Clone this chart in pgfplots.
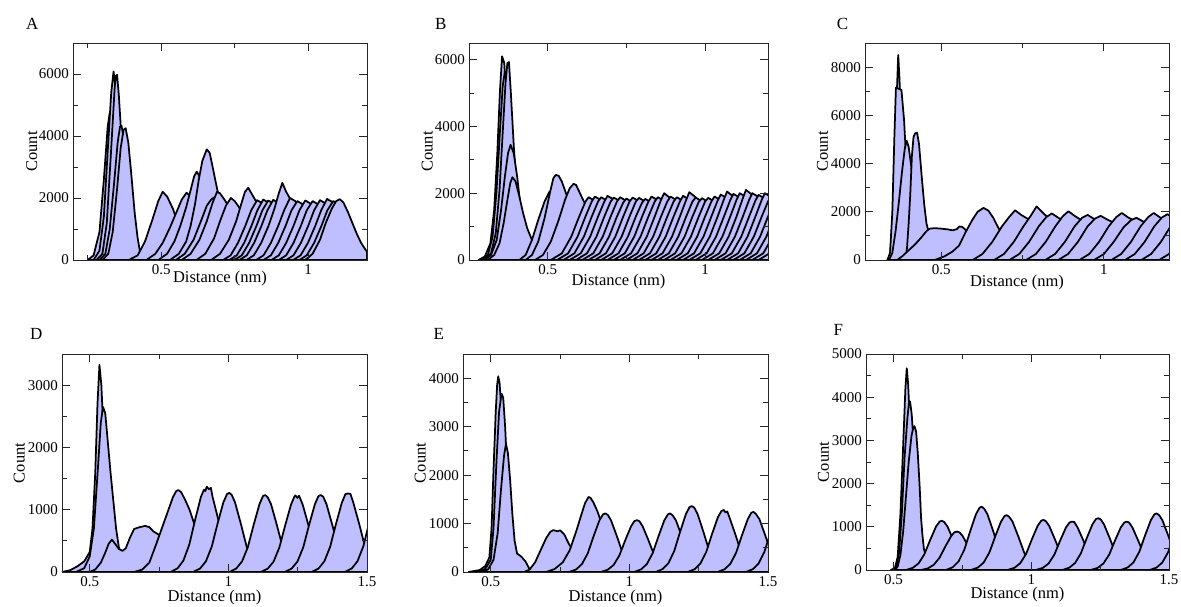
\documentclass[border=0pt]{standalone}
\usepackage{fontspec}
\setmainfont{Liberation Serif}
\usepackage{pgfplots}
\pgfplotsset{compat=1.18}
\definecolor{histfill}{RGB}{191,191,255}
\pgfplotsset{
  hist/.style={draw=black, line width=1.75pt, fill=histfill, line join=round},
  panel/.style={
    scale only axis, axis on top, clip=true, anchor=north west,
    axis line style={line width=0.9pt, black!85},
    tick style={line width=0.9pt, black!85},
    major tick length=8pt, minor tick length=5pt,
    tick align=inside,
    ymin=0,
    /pgf/number format/assume math mode=true,
    /pgf/number format/1000 sep={},
    tick label style={font=\fontsize{15}{15}\selectfont},
    xticklabel style={inner sep=0pt, yshift=-4pt},
    yticklabel style={inner sep=0pt, xshift=-4pt},
    label style={font=\fontsize{16.5}{16.5}\selectfont, inner sep=0pt},
    xlabel={Distance (nm)},
    ylabel={Count},
    ylabel style={at={(axis description cs:-0.14,0.5)}, anchor=center},
  },
}
\begin{document}
\begin{tikzpicture}
\useasboundingbox (0pt,0pt) rectangle (1181pt,606pt);
\node[anchor=base west, font=\fontsize{17}{17}\selectfont, inner sep=0pt] at (26pt,576.7pt) {A};
\node[anchor=base west, font=\fontsize{17}{17}\selectfont, inner sep=0pt] at (435pt,576.7pt) {B};
\node[anchor=base west, font=\fontsize{17}{17}\selectfont, inner sep=0pt] at (836.7pt,576.7pt) {C};
\node[anchor=base west, font=\fontsize{17}{17}\selectfont, inner sep=0pt] at (30pt,266.7pt) {D};
\node[anchor=base west, font=\fontsize{17}{17}\selectfont, inner sep=0pt] at (433.3pt,266.7pt) {E};
\node[anchor=base west, font=\fontsize{17}{17}\selectfont, inner sep=0pt] at (833.3pt,270pt) {F};

% ---------------- A ----------------
\begin{axis}[panel, at={(73pt,563pt)}, width=294pt, height=217pt,
  xmin=0.2, xmax=1.2, ymax=7000,
  xtick={0.5,1}, minor xtick={0.25,0.75},
  ytick={0,2000,4000,6000}, minor ytick={1000,3000,5000},
  xlabel style={at={(axis description cs:0.5,-0.05)}, anchor=north}]
\addplot[hist] coordinates {(0.25,0)(0.27,150)(0.29,900)(0.305,2600)(0.318,4300)(0.325,4750)(0.335,4000)(0.35,2200)(0.365,900)(0.38,200)(0.40,0)} \closedcycle;
\addplot[hist] coordinates {(0.27,0)(0.29,300)(0.305,1400)(0.318,3500)(0.33,5400)(0.338,6080)(0.345,5500)(0.355,4000)(0.37,1800)(0.385,500)(0.40,0)} \closedcycle;
\addplot[hist] coordinates {(0.28,0)(0.30,200)(0.315,1200)(0.33,3600)(0.342,5600)(0.346,5950)(0.350,5970)(0.356,5300)(0.365,3900)(0.38,1700)(0.395,400)(0.41,0)} \closedcycle;
\addplot[hist] coordinates {(0.29,0)(0.31,200)(0.325,1000)(0.34,2500)(0.352,3800)(0.36,4300)(0.365,4330)(0.373,3900)(0.385,2600)(0.40,1100)(0.415,300)(0.43,0)} \closedcycle;
\addplot[hist] coordinates {(0.30,0)(0.32,200)(0.335,900)(0.35,2300)(0.362,3600)(0.372,4200)(0.379,4250)(0.388,3800)(0.398,2800)(0.41,1500)(0.42,700)(0.43,150)(0.44,0)} \closedcycle;
\addplot[hist] coordinates {(0.39,0)(0.42,150)(0.445,600)(0.47,1300)(0.49,1900)(0.505,2200)(0.52,2050)(0.54,1650)(0.56,1100)(0.58,600)(0.61,200)(0.64,0)} \closedcycle;
\addplot[hist] coordinates {(0.45,0)(0.48,200)(0.505,550)(0.53,1050)(0.55,1500)(0.57,1950)(0.586,2170)(0.60,2050)(0.62,1700)(0.645,1100)(0.67,500)(0.70,100)(0.72,0)} \closedcycle;
\addplot[hist] coordinates {(0.49,0)(0.52,200)(0.545,600)(0.565,1100)(0.585,1700)(0.60,2250)(0.612,2700)(0.621,2850)(0.63,2700)(0.645,2100)(0.665,1400)(0.69,600)(0.72,150)(0.74,0)} \closedcycle;
\addplot[hist] coordinates {(0.53,0)(0.56,200)(0.585,600)(0.60,1100)(0.615,1800)(0.628,2600)(0.64,3200)(0.655,3570)(0.665,3450)(0.675,3000)(0.69,2300)(0.71,1500)(0.735,700)(0.76,200)(0.78,0)} \closedcycle;
\addplot[hist] coordinates {(0.55,0)(0.58,200)(0.61,650)(0.635,1250)(0.655,1750)(0.67,1950)(0.685,2050)(0.70,2000)(0.72,1750)(0.745,1200)(0.77,600)(0.80,200)(0.83,0)} \closedcycle;
\addplot[hist] coordinates {(0.57,0)(0.60,200)(0.63,650)(0.655,1250)(0.675,1850)(0.69,2200)(0.70,2150)(0.715,1950)(0.735,1650)(0.76,1100)(0.79,500)(0.82,150)(0.85,0)} \closedcycle;
\addplot[hist] coordinates {(0.62,0)(0.65,200)(0.68,700)(0.70,1250)(0.72,1750)(0.737,2000)(0.75,1900)(0.765,1700)(0.785,1300)(0.81,800)(0.84,300)(0.87,0)} \closedcycle;
\addplot[hist] coordinates {(0.67,0)(0.70,200)(0.73,650)(0.755,1250)(0.772,1800)(0.785,2200)(0.796,2330)(0.81,2100)(0.825,1850)(0.845,1500)(0.87,900)(0.90,350)(0.93,0)} \closedcycle;
\addplot[hist] coordinates {(0.711,0)(0.736,150)(0.761,550)(0.786,1100)(0.806,1600)(0.826,1930)(0.844,1830)(0.871,1500)(0.901,800)(0.926,250)(0.951,0)} \closedcycle;
\addplot[hist] coordinates {(0.732,0)(0.757,150)(0.782,550)(0.807,1100)(0.827,1600)(0.847,1950)(0.865,1850)(0.892,1500)(0.922,800)(0.947,250)(0.972,0)} \closedcycle;
\addplot[hist] coordinates {(0.749,0)(0.774,150)(0.799,550)(0.824,1100)(0.844,1600)(0.864,1920)(0.882,1820)(0.909,1500)(0.939,800)(0.964,250)(0.989,0)} \closedcycle;
\addplot[hist] coordinates {(0.766,0)(0.791,150)(0.816,550)(0.841,1100)(0.861,1600)(0.881,1940)(0.899,1840)(0.926,1500)(0.956,800)(0.981,250)(1.006,0)} \closedcycle;
\addplot[hist] coordinates {(0.79,0)(0.815,150)(0.84,550)(0.865,1100)(0.885,1650)(0.90,2150)(0.912,2490)(0.925,2200)(0.94,1950)(0.96,1600)(0.99,900)(1.02,300)(1.045,0)} \closedcycle;
\addplot[hist] coordinates {(0.823,0)(0.848,150)(0.873,550)(0.898,1100)(0.918,1600)(0.938,2000)(0.956,1900)(0.983,1500)(1.013,800)(1.038,250)(1.063,0)} \closedcycle;
\addplot[hist] coordinates {(0.848,0)(0.873,150)(0.898,550)(0.923,1100)(0.943,1600)(0.963,1900)(0.981,1800)(1.008,1500)(1.038,800)(1.063,250)(1.088,0)} \closedcycle;
\addplot[hist] coordinates {(0.875,0)(0.90,150)(0.925,550)(0.95,1100)(0.97,1600)(0.99,1920)(1.008,1820)(1.035,1500)(1.065,800)(1.09,250)(1.115,0)} \closedcycle;
\addplot[hist] coordinates {(0.90,0)(0.925,150)(0.95,550)(0.975,1100)(0.995,1600)(1.015,1900)(1.033,1800)(1.06,1500)(1.09,800)(1.115,250)(1.14,0)} \closedcycle;
\addplot[hist] coordinates {(0.925,0)(0.95,150)(0.975,550)(1.0,1100)(1.02,1600)(1.04,1930)(1.058,1830)(1.085,1500)(1.115,800)(1.14,250)(1.165,0)} \closedcycle;
\addplot[hist] coordinates {(0.949,0)(0.974,150)(0.999,550)(1.024,1100)(1.044,1600)(1.064,1970)(1.082,1870)(1.109,1500)(1.139,800)(1.164,250)(1.189,0)} \closedcycle;
\addplot[hist] coordinates {(0.97,0)(0.995,150)(1.02,550)(1.045,1100)(1.065,1600)(1.085,1900)(1.103,1800)(1.13,1500)(1.16,800)(1.185,250)(1.21,0)} \closedcycle;
\addplot[hist] coordinates {(0.99,0)(1.015,200)(1.04,650)(1.06,1200)(1.08,1650)(1.095,1900)(1.108,1960)(1.12,1850)(1.135,1550)(1.15,1200)(1.165,850)(1.18,550)(1.195,330)(1.2,280)} \closedcycle;
\end{axis}

% ---------------- B ----------------
\begin{axis}[panel, at={(469pt,563pt)}, width=299pt, height=217pt,
  xmin=0.25, xmax=1.2, ymax=6500,
  xtick={0.5,1}, minor xtick={0.75},
  ytick={0,2000,4000,6000}, minor ytick={1000,3000,5000},
  xlabel style={at={(axis description cs:0.5,-0.065)}, anchor=north}]
\addplot[hist] coordinates {(0.28,0)(0.30,100)(0.318,500)(0.33,1500)(0.34,3200)(0.348,5000)(0.355,6100)(0.362,5900)(0.37,4700)(0.38,3000)(0.395,1300)(0.41,400)(0.43,0)} \closedcycle;
\addplot[hist] coordinates {(0.29,0)(0.31,150)(0.325,700)(0.337,2000)(0.348,3800)(0.357,5200)(0.364,5650)(0.372,5200)(0.382,3700)(0.395,2000)(0.41,700)(0.43,0)} \closedcycle;
\addplot[hist] coordinates {(0.30,0)(0.32,200)(0.335,800)(0.347,2100)(0.357,3800)(0.366,5300)(0.372,5900)(0.377,5930)(0.383,5000)(0.393,3300)(0.405,1700)(0.42,600)(0.44,0)} \closedcycle;
\addplot[hist] coordinates {(0.30,0)(0.32,150)(0.338,600)(0.352,1500)(0.364,2500)(0.374,3200)(0.382,3450)(0.392,3200)(0.403,2500)(0.415,1500)(0.428,700)(0.44,250)(0.455,0)} \closedcycle;
\addplot[hist] coordinates {(0.31,0)(0.33,150)(0.347,500)(0.36,1100)(0.372,1800)(0.381,2300)(0.388,2480)(0.398,2350)(0.41,1900)(0.422,1400)(0.435,950)(0.45,600)(0.465,250)(0.48,0)} \closedcycle;
\addplot[hist] coordinates {(0.41,0)(0.43,150)(0.45,600)(0.47,1200)(0.49,1750)(0.506,2050)(0.52,1950)(0.54,1500)(0.565,800)(0.59,300)(0.62,0)} \closedcycle;
\addplot[hist] coordinates {(0.43,0)(0.45,150)(0.47,550)(0.49,1250)(0.508,2050)(0.518,2450)(0.526,2550)(0.535,2520)(0.545,2350)(0.56,1950)(0.58,1500)(0.605,900)(0.63,400)(0.66,0)} \closedcycle;
\addplot[hist] coordinates {(0.46,0)(0.485,150)(0.51,550)(0.535,1200)(0.555,1800)(0.57,2150)(0.582,2280)(0.59,2250)(0.60,2050)(0.615,1750)(0.64,1300)(0.67,700)(0.70,200)(0.73,0)} \closedcycle;
\addplot[hist] coordinates {(0.51,0)(0.545,200)(0.575,700)(0.60,1300)(0.62,1750)(0.63,1880)(0.65,1770)(0.69,1300)(0.74,300)(0.78,0)} \closedcycle;
\addplot[hist] coordinates {(0.53,0)(0.565,200)(0.595,700)(0.62,1300)(0.64,1750)(0.65,1900)(0.67,1790)(0.71,1300)(0.76,300)(0.80,0)} \closedcycle;
\addplot[hist] coordinates {(0.55,0)(0.585,200)(0.615,700)(0.64,1300)(0.66,1750)(0.67,1880)(0.69,1770)(0.73,1300)(0.78,300)(0.82,0)} \closedcycle;
\addplot[hist] coordinates {(0.57,0)(0.605,200)(0.635,700)(0.66,1300)(0.68,1750)(0.69,1920)(0.71,1810)(0.75,1300)(0.80,300)(0.84,0)} \closedcycle;
\addplot[hist] coordinates {(0.59,0)(0.625,200)(0.655,700)(0.68,1300)(0.70,1750)(0.71,1870)(0.73,1760)(0.77,1300)(0.82,300)(0.86,0)} \closedcycle;
\addplot[hist] coordinates {(0.61,0)(0.645,200)(0.675,700)(0.70,1300)(0.72,1750)(0.73,1880)(0.75,1770)(0.79,1300)(0.84,300)(0.88,0)} \closedcycle;
\addplot[hist] coordinates {(0.63,0)(0.665,200)(0.695,700)(0.72,1300)(0.74,1720)(0.75,1840)(0.77,1730)(0.81,1300)(0.86,300)(0.90,0)} \closedcycle;
\addplot[hist] coordinates {(0.65,0)(0.685,200)(0.715,700)(0.74,1300)(0.76,1750)(0.77,1870)(0.79,1760)(0.83,1300)(0.88,300)(0.92,0)} \closedcycle;
\addplot[hist] coordinates {(0.67,0)(0.705,200)(0.735,700)(0.76,1300)(0.78,1750)(0.79,1860)(0.81,1750)(0.85,1300)(0.90,300)(0.94,0)} \closedcycle;
\addplot[hist] coordinates {(0.69,0)(0.725,200)(0.755,700)(0.78,1300)(0.80,1720)(0.81,1830)(0.83,1720)(0.87,1300)(0.92,300)(0.96,0)} \closedcycle;
\addplot[hist] coordinates {(0.71,0)(0.745,200)(0.775,700)(0.80,1300)(0.82,1750)(0.83,1900)(0.85,1790)(0.89,1300)(0.94,300)(0.98,0)} \closedcycle;
\addplot[hist] coordinates {(0.73,0)(0.765,200)(0.795,700)(0.82,1300)(0.84,1750)(0.85,1880)(0.87,1770)(0.91,1300)(0.96,300)(1.00,0)} \closedcycle;
\addplot[hist] coordinates {(0.75,0)(0.785,200)(0.815,700)(0.84,1300)(0.86,1800)(0.87,2000)(0.89,1850)(0.93,1300)(0.98,300)(1.02,0)} \closedcycle;
\addplot[hist] coordinates {(0.77,0)(0.805,200)(0.835,700)(0.86,1300)(0.88,1750)(0.89,1900)(0.91,1790)(0.95,1300)(1.00,300)(1.04,0)} \closedcycle;
\addplot[hist] coordinates {(0.79,0)(0.825,200)(0.855,700)(0.88,1300)(0.90,1750)(0.91,1880)(0.93,1770)(0.97,1300)(1.02,300)(1.06,0)} \closedcycle;
\addplot[hist] coordinates {(0.81,0)(0.845,200)(0.875,700)(0.90,1300)(0.92,1750)(0.93,1920)(0.95,1810)(0.99,1300)(1.04,300)(1.08,0)} \closedcycle;
\addplot[hist] coordinates {(0.83,0)(0.865,200)(0.895,700)(0.92,1300)(0.94,1800)(0.95,2030)(0.97,1880)(1.01,1300)(1.06,300)(1.10,0)} \closedcycle;
\addplot[hist] coordinates {(0.85,0)(0.885,200)(0.915,700)(0.94,1300)(0.96,1750)(0.97,1870)(0.99,1760)(1.03,1300)(1.08,300)(1.12,0)} \closedcycle;
\addplot[hist] coordinates {(0.87,0)(0.905,200)(0.935,700)(0.96,1300)(0.98,1740)(0.99,1850)(1.01,1740)(1.05,1300)(1.10,300)(1.14,0)} \closedcycle;
\addplot[hist] coordinates {(0.89,0)(0.925,200)(0.955,700)(0.98,1300)(1.00,1750)(1.01,1860)(1.03,1750)(1.07,1300)(1.12,300)(1.16,0)} \closedcycle;
\addplot[hist] coordinates {(0.91,0)(0.945,200)(0.975,700)(1.00,1300)(1.02,1750)(1.03,1900)(1.05,1790)(1.09,1300)(1.14,300)(1.18,0)} \closedcycle;
\addplot[hist] coordinates {(0.93,0)(0.965,200)(0.995,700)(1.02,1300)(1.04,1780)(1.05,1960)(1.07,1850)(1.11,1300)(1.16,300)(1.20,0)} \closedcycle;
\addplot[hist] coordinates {(0.95,0)(0.985,200)(1.015,700)(1.04,1300)(1.06,1820)(1.07,2050)(1.09,1900)(1.13,1300)(1.18,300)(1.22,0)} \closedcycle;
\addplot[hist] coordinates {(0.97,0)(1.005,200)(1.035,700)(1.06,1300)(1.08,1790)(1.09,1980)(1.11,1870)(1.15,1300)(1.20,300)(1.24,0)} \closedcycle;
\addplot[hist] coordinates {(0.99,0)(1.025,200)(1.055,700)(1.08,1300)(1.10,1800)(1.11,2000)(1.13,1890)(1.17,1300)(1.22,300)(1.26,0)} \closedcycle;
\addplot[hist] coordinates {(1.01,0)(1.045,200)(1.075,700)(1.10,1300)(1.12,1850)(1.13,2100)(1.15,1950)(1.19,1300)(1.24,300)(1.28,0)} \closedcycle;
\addplot[hist] coordinates {(1.03,0)(1.065,200)(1.095,700)(1.12,1300)(1.14,1800)(1.15,2000)(1.17,1890)(1.21,1300)(1.26,300)(1.30,0)} \closedcycle;
\addplot[hist] coordinates {(1.05,0)(1.085,200)(1.115,700)(1.14,1300)(1.16,1780)(1.17,1950)(1.19,1840)(1.23,1300)(1.28,300)(1.32,0)} \closedcycle;
\addplot[hist] coordinates {(1.07,0)(1.105,200)(1.135,700)(1.16,1300)(1.18,1800)(1.19,2000)(1.21,1890)(1.25,1300)(1.30,300)(1.34,0)} \closedcycle;
\addplot[hist] coordinates {(1.09,0)(1.125,200)(1.155,700)(1.18,1300)(1.20,1750)(1.21,1920)(1.23,1810)(1.27,1300)(1.32,300)(1.36,0)} \closedcycle;
\addplot[hist] coordinates {(1.11,0)(1.145,200)(1.175,700)(1.20,1300)(1.22,1750)(1.23,1900)(1.25,1790)(1.29,1300)(1.34,300)(1.38,0)} \closedcycle;
\addplot[hist] coordinates {(1.13,0)(1.165,200)(1.195,700)(1.22,1300)(1.24,1750)(1.25,1950)(1.27,1840)(1.31,1300)(1.36,300)(1.40,0)} \closedcycle;
\addplot[hist] coordinates {(1.15,0)(1.185,200)(1.215,700)(1.24,1300)(1.26,1750)(1.27,1900)(1.29,1790)(1.33,1300)(1.38,300)(1.42,0)} \closedcycle;
\addplot[hist] coordinates {(1.17,0)(1.205,200)(1.235,700)(1.26,1300)(1.28,1750)(1.29,1900)(1.31,1790)(1.35,1300)(1.40,300)(1.44,0)} \closedcycle;
\end{axis}

% ---------------- C ----------------
\begin{axis}[panel, at={(865pt,563pt)}, width=304pt, height=217pt,
  xmin=0.266, xmax=1.2, ymax=9000,
  xtick={0.5,1}, minor xtick={0.75},
  ytick={0,2000,4000,6000,8000}, minor ytick={1000,3000,5000,7000},
  xlabel style={at={(axis description cs:0.5,-0.07)}, anchor=north}]
\addplot[hist] coordinates {(0.335,0)(0.343,200)(0.35,1500)(0.358,4500)(0.364,7000)(0.368,8500)(0.372,7500)(0.38,4500)(0.39,1800)(0.40,500)(0.415,0)} \closedcycle;
\addplot[hist] coordinates {(0.335,0)(0.343,300)(0.35,2000)(0.356,5000)(0.361,7150)(0.37,7100)(0.378,7050)(0.386,5800)(0.395,3500)(0.405,1500)(0.42,400)(0.435,0)} \closedcycle;
\addplot[hist] coordinates {(0.34,0)(0.35,300)(0.36,1200)(0.37,2400)(0.38,3700)(0.388,4600)(0.394,4950)(0.40,4700)(0.41,3700)(0.42,2500)(0.43,1400)(0.44,700)(0.455,200)(0.47,0)} \closedcycle;
\addplot[hist] coordinates {(0.39,0)(0.395,500)(0.40,1500)(0.405,2700)(0.41,4300)(0.415,5100)(0.42,5250)(0.426,5280)(0.432,4800)(0.44,3500)(0.448,2300)(0.455,1500)(0.465,1000)(0.48,500)(0.50,150)(0.52,0)} \closedcycle;
\addplot[hist] coordinates {(0.365,0)(0.38,150)(0.40,400)(0.42,650)(0.44,950)(0.455,1200)(0.465,1300)(0.48,1320)(0.50,1300)(0.52,1270)(0.535,1230)(0.548,1280)(0.556,1390)(0.565,1370)(0.575,1250)(0.585,850)(0.60,400)(0.62,100)(0.64,0)} \closedcycle;
\addplot[hist] coordinates {(0.48,0)(0.51,150)(0.535,350)(0.555,600)(0.575,1150)(0.595,1650)(0.612,2000)(0.63,2160)(0.645,2050)(0.66,1750)(0.675,1350)(0.70,800)(0.73,300)(0.76,0)} \closedcycle;
\addplot[hist] coordinates {(0.597,0)(0.627,250)(0.657,750)(0.687,1400)(0.71,1800)(0.727,2060)(0.747,1860)(0.767,1700)(0.797,1000)(0.827,400)(0.857,0)} \closedcycle;
\addplot[hist] coordinates {(0.663,0)(0.693,250)(0.723,750)(0.753,1400)(0.776,1850)(0.793,2220)(0.813,1950)(0.833,1700)(0.863,1000)(0.893,400)(0.923,0)} \closedcycle;
\addplot[hist] coordinates {(0.71,0)(0.74,250)(0.77,750)(0.80,1400)(0.823,1780)(0.84,1930)(0.86,1750)(0.88,1600)(0.91,1000)(0.94,400)(0.97,0)} \closedcycle;
\addplot[hist] coordinates {(0.761,0)(0.791,250)(0.821,750)(0.851,1400)(0.874,1820)(0.891,2020)(0.911,1820)(0.931,1650)(0.961,1000)(0.991,400)(1.021,0)} \closedcycle;
\addplot[hist] coordinates {(0.82,0)(0.85,250)(0.88,750)(0.91,1400)(0.933,1750)(0.95,1870)(0.97,1700)(0.99,1580)(1.02,1000)(1.05,400)(1.08,0)} \closedcycle;
\addplot[hist] coordinates {(0.86,0)(0.89,250)(0.92,750)(0.95,1400)(0.973,1720)(0.99,1830)(1.01,1680)(1.03,1550)(1.06,1000)(1.09,400)(1.12,0)} \closedcycle;
\addplot[hist] coordinates {(0.925,0)(0.955,250)(0.985,750)(1.015,1400)(1.038,1780)(1.055,1950)(1.075,1760)(1.095,1620)(1.125,1000)(1.155,400)(1.185,0)} \closedcycle;
\addplot[hist] coordinates {(0.97,0)(1.00,250)(1.03,750)(1.06,1350)(1.083,1650)(1.10,1750)(1.12,1600)(1.14,1450)(1.17,950)(1.20,400)(1.23,0)} \closedcycle;
\addplot[hist] coordinates {(1.023,0)(1.053,250)(1.083,750)(1.113,1400)(1.136,1780)(1.153,1950)(1.173,1760)(1.193,1620)(1.223,1000)(1.253,400)(1.283,0)} \closedcycle;
\addplot[hist] coordinates {(1.065,0)(1.095,250)(1.125,750)(1.155,1400)(1.178,1760)(1.195,1900)(1.215,1720)(1.235,1600)(1.265,1000)(1.295,400)(1.325,0)} \closedcycle;
\addplot[hist] coordinates {(1.115,0)(1.145,250)(1.175,750)(1.205,1400)(1.228,1780)(1.245,1950)(1.265,1760)(1.285,1620)(1.315,1000)(1.345,400)(1.375,0)} \closedcycle;
\addplot[hist] coordinates {(1.17,0)(1.20,250)(1.23,750)(1.26,1400)(1.283,1760)(1.30,1900)(1.32,1720)(1.34,1600)(1.37,1000)(1.40,400)(1.43,0)} \closedcycle;
\end{axis}

% ---------------- D ----------------
\begin{axis}[panel, at={(62pt,252pt)}, width=305pt, height=218pt,
  xmin=0.4, xmax=1.5, ymax=3500,
  xtick={0.5,1,1.5}, minor xtick={0.75,1.25},
  ytick={0,1000,2000,3000}, minor ytick={500,1500,2500},
  xlabel style={at={(axis description cs:0.5,-0.08)}, anchor=north}]
\addplot[hist] coordinates {(0.40,0)(0.43,30)(0.455,90)(0.48,170)(0.50,320)(0.51,700)(0.52,1600)(0.528,2700)(0.535,3325)(0.542,3000)(0.55,2200)(0.56,1400)(0.575,700)(0.59,300)(0.61,80)(0.63,0)} \closedcycle;
\addplot[hist] coordinates {(0.45,0)(0.48,60)(0.50,250)(0.515,700)(0.53,1700)(0.54,2400)(0.548,2650)(0.556,2550)(0.565,2100)(0.575,1600)(0.585,1150)(0.595,700)(0.605,400)(0.62,200)(0.645,70)(0.67,0)} \closedcycle;
\addplot[hist] coordinates {(0.50,0)(0.52,40)(0.54,150)(0.555,300)(0.568,450)(0.58,520)(0.592,450)(0.605,370)(0.618,340)(0.63,380)(0.645,550)(0.66,690)(0.68,720)(0.70,740)(0.715,720)(0.73,650)(0.745,610)(0.76,570)(0.78,480)(0.80,330)(0.83,150)(0.86,40)(0.89,0)} \closedcycle;
\addplot[hist] coordinates {(0.66,0)(0.69,40)(0.715,150)(0.74,450)(0.76,700)(0.78,950)(0.80,1200)(0.812,1300)(0.82,1315)(0.83,1280)(0.845,1150)(0.86,1000)(0.875,800)(0.89,600)(0.91,350)(0.94,120)(0.97,0)} \closedcycle;
\addplot[hist] coordinates {(0.792,0)(0.817,60)(0.838,185)(0.859,438)(0.88,836)(0.901,1206)(0.912,1320)(0.917,1300)(0.922,1370)(0.93,1330)(0.937,1350)(0.943,1206)(0.964,836)(0.985,438)(1.006,185)(1.027,60)(1.052,0)} \closedcycle;
\addplot[hist] coordinates {(0.873,0)(0.898,56)(0.919,171)(0.94,406)(0.961,775)(0.982,1118)(0.995,1250)(1.003,1270)(1.012,1240)(1.024,1118)(1.045,775)(1.066,406)(1.087,171)(1.108,56)(1.133,0)} \closedcycle;
\addplot[hist] coordinates {(1.003,0)(1.028,54)(1.049,167)(1.07,395)(1.091,753)(1.112,1087)(1.125,1220)(1.133,1235)(1.142,1200)(1.154,1087)(1.175,753)(1.196,395)(1.217,167)(1.238,54)(1.263,0)} \closedcycle;
\addplot[hist] coordinates {(1.117,0)(1.142,54)(1.163,166)(1.184,394)(1.205,750)(1.226,1082)(1.237,1200)(1.242,1230)(1.249,1190)(1.255,1225)(1.268,1082)(1.289,750)(1.31,394)(1.331,166)(1.352,54)(1.377,0)} \closedcycle;
\addplot[hist] coordinates {(1.203,0)(1.228,54)(1.249,167)(1.27,395)(1.291,753)(1.312,1087)(1.325,1220)(1.333,1235)(1.342,1210)(1.354,1087)(1.375,753)(1.396,395)(1.417,167)(1.438,54)(1.463,0)} \closedcycle;
\addplot[hist] coordinates {(1.30,0)(1.325,55)(1.346,170)(1.367,403)(1.388,769)(1.409,1109)(1.422,1250)(1.43,1260)(1.44,1255)(1.451,1109)(1.472,769)(1.493,403)(1.514,170)(1.535,55)(1.56,0)} \closedcycle;
\addplot[hist] coordinates {(1.42,0)(1.445,57)(1.466,175)(1.487,416)(1.508,793)(1.529,1144)(1.55,1300)(1.57,1144)(1.6,0)} \closedcycle;
\end{axis}

% ---------------- E ----------------
\begin{axis}[panel, at={(463pt,252pt)}, width=305pt, height=218pt,
  xmin=0.4, xmax=1.5, ymax=4500,
  xtick={0.5,1,1.5}, minor xtick={0.75,1.25},
  ytick={0,1000,2000,3000,4000}, minor ytick={500,1500,2500,3500},
  xlabel style={at={(axis description cs:0.5,-0.08)}, anchor=north}]
\addplot[hist] coordinates {(0.42,0)(0.46,40)(0.48,120)(0.495,300)(0.503,900)(0.51,2100)(0.518,3300)(0.523,3850)(0.527,4040)(0.532,3900)(0.54,3200)(0.55,2000)(0.56,1000)(0.57,400)(0.585,120)(0.60,30)(0.62,0)} \closedcycle;
\addplot[hist] coordinates {(0.45,0)(0.48,60)(0.50,250)(0.51,900)(0.52,2200)(0.53,3300)(0.539,3680)(0.545,3600)(0.552,3000)(0.56,2000)(0.57,1000)(0.58,450)(0.595,150)(0.61,40)(0.63,0)} \closedcycle;
\addplot[hist] coordinates {(0.46,0)(0.49,50)(0.51,250)(0.525,800)(0.537,1700)(0.548,2400)(0.555,2650)(0.562,2450)(0.57,1900)(0.578,1200)(0.586,650)(0.595,380)(0.61,320)(0.625,220)(0.64,60)(0.66,0)} \closedcycle;
\addplot[hist] coordinates {(0.62,0)(0.64,50)(0.66,200)(0.68,450)(0.70,700)(0.715,830)(0.726,865)(0.74,840)(0.75,860)(0.765,780)(0.78,600)(0.80,400)(0.83,150)(0.86,30)(0.88,0)} \closedcycle;
\addplot[hist] coordinates {(0.70,0)(0.73,60)(0.76,200)(0.785,450)(0.81,870)(0.825,1150)(0.84,1420)(0.853,1550)(0.86,1530)(0.87,1440)(0.885,1250)(0.90,1000)(0.92,600)(0.945,250)(0.97,60)(1.0,0)} \closedcycle;
\addplot[hist] coordinates {(0.783,0)(0.808,53)(0.829,163)(0.85,387)(0.871,738)(0.892,1065)(0.905,1190)(0.913,1210)(0.922,1180)(0.934,1065)(0.955,738)(0.976,387)(0.997,163)(1.018,53)(1.043,0)} \closedcycle;
\addplot[hist] coordinates {(0.897,0)(0.922,47)(0.943,144)(0.964,342)(0.985,653)(1.006,942)(1.018,1050)(1.027,1070)(1.036,1050)(1.048,942)(1.069,653)(1.09,342)(1.111,144)(1.132,47)(1.157,0)} \closedcycle;
\addplot[hist] coordinates {(1.017,0)(1.042,53)(1.063,163)(1.084,387)(1.105,738)(1.126,1065)(1.139,1190)(1.147,1210)(1.156,1170)(1.168,1065)(1.189,738)(1.21,387)(1.231,163)(1.252,53)(1.277,0)} \closedcycle;
\addplot[hist] coordinates {(1.095,0)(1.12,60)(1.141,184)(1.162,435)(1.183,830)(1.204,1197)(1.217,1340)(1.225,1360)(1.234,1330)(1.246,1197)(1.267,830)(1.288,435)(1.309,184)(1.33,60)(1.355,0)} \closedcycle;
\addplot[hist] coordinates {(1.21,0)(1.235,56)(1.256,173)(1.277,410)(1.298,781)(1.319,1126)(1.332,1260)(1.34,1280)(1.347,1230)(1.353,1250)(1.361,1126)(1.382,781)(1.403,410)(1.424,173)(1.445,56)(1.47,0)} \closedcycle;
\addplot[hist] coordinates {(1.318,0)(1.343,55)(1.364,167)(1.385,397)(1.406,756)(1.427,1091)(1.44,1225)(1.448,1240)(1.456,1200)(1.469,1091)(1.49,756)(1.511,397)(1.532,167)(1.553,55)(1.578,0)} \closedcycle;
\addplot[hist] coordinates {(1.42,0)(1.445,57)(1.466,175)(1.487,416)(1.508,793)(1.529,1144)(1.55,1300)(1.57,1144)(1.6,0)} \closedcycle;
\end{axis}

% ---------------- F ----------------
\begin{axis}[panel, at={(866pt,252pt)}, width=303pt, height=216pt,
  xmin=0.4, xmax=1.5, ymax=5000,
  xtick={0.5,1,1.5}, minor xtick={0.75,1.25},
  ytick={0,1000,2000,3000,4000,5000}, minor ytick={500,1500,2500,3500,4500},
  xlabel style={at={(axis description cs:0.5,-0.08)}, anchor=north}]
\addplot[hist] coordinates {(0.49,0)(0.505,50)(0.515,300)(0.525,1300)(0.535,2900)(0.543,4200)(0.548,4670)(0.553,4300)(0.56,3300)(0.57,2000)(0.58,1000)(0.59,400)(0.60,150)(0.615,0)} \closedcycle;
\addplot[hist] coordinates {(0.50,0)(0.51,80)(0.52,400)(0.53,1300)(0.54,2600)(0.55,3500)(0.556,3880)(0.56,3900)(0.566,3600)(0.575,2700)(0.585,1600)(0.595,800)(0.605,300)(0.62,0)} \closedcycle;
\addplot[hist] coordinates {(0.505,0)(0.515,80)(0.525,350)(0.535,900)(0.545,1700)(0.555,2500)(0.565,3100)(0.572,3300)(0.576,3330)(0.582,3200)(0.588,2700)(0.595,1900)(0.60,1200)(0.605,800)(0.61,500)(0.62,250)(0.635,60)(0.65,0)} \closedcycle;
\addplot[hist] coordinates {(0.545,0)(0.57,50)(0.591,154)(0.612,365)(0.633,695)(0.654,1003)(0.667,1120)(0.675,1140)(0.684,1110)(0.696,1003)(0.717,695)(0.738,365)(0.759,154)(0.78,50)(0.805,0)} \closedcycle;
\addplot[hist] coordinates {(0.60,0)(0.625,39)(0.646,120)(0.667,285)(0.688,543)(0.709,783)(0.72,870)(0.73,890)(0.74,870)(0.751,783)(0.772,543)(0.793,285)(0.814,120)(0.835,39)(0.86,0)} \closedcycle;
\addplot[hist] coordinates {(0.69,0)(0.715,64)(0.736,198)(0.757,469)(0.778,894)(0.799,1289)(0.812,1440)(0.82,1465)(0.829,1420)(0.841,1289)(0.862,894)(0.883,469)(0.904,198)(0.925,64)(0.95,0)} \closedcycle;
\addplot[hist] coordinates {(0.781,0)(0.806,56)(0.827,171)(0.848,406)(0.869,775)(0.89,1118)(0.903,1250)(0.911,1270)(0.92,1230)(0.932,1118)(0.953,775)(0.974,406)(0.995,171)(1.016,56)(1.041,0)} \closedcycle;
\addplot[hist] coordinates {(0.914,0)(0.939,51)(0.96,157)(0.981,371)(1.002,708)(1.023,1021)(1.036,1140)(1.044,1160)(1.053,1130)(1.065,1021)(1.086,708)(1.107,371)(1.128,157)(1.149,51)(1.174,0)} \closedcycle;
\addplot[hist] coordinates {(1.017,0)(1.042,49)(1.063,151)(1.084,358)(1.105,683)(1.126,986)(1.139,1100)(1.147,1120)(1.156,1110)(1.168,986)(1.189,683)(1.21,358)(1.231,151)(1.252,49)(1.277,0)} \closedcycle;
\addplot[hist] coordinates {(1.113,0)(1.138,53)(1.159,162)(1.18,384)(1.201,732)(1.222,1056)(1.235,1180)(1.243,1200)(1.252,1170)(1.264,1056)(1.285,732)(1.306,384)(1.327,162)(1.348,53)(1.373,0)} \closedcycle;
\addplot[hist] coordinates {(1.216,0)(1.241,49)(1.262,151)(1.283,358)(1.304,683)(1.325,986)(1.338,1100)(1.346,1120)(1.355,1100)(1.367,986)(1.388,683)(1.409,358)(1.43,151)(1.451,49)(1.476,0)} \closedcycle;
\addplot[hist] coordinates {(1.325,0)(1.35,58)(1.371,177)(1.392,419)(1.413,799)(1.434,1153)(1.447,1290)(1.455,1310)(1.464,1270)(1.476,1153)(1.497,799)(1.518,419)(1.539,177)(1.56,58)(1.585,0)} \closedcycle;
\addplot[hist] coordinates {(1.43,0)(1.455,57)(1.476,175)(1.497,416)(1.518,793)(1.539,1144)(1.56,1300)(1.58,1144)(1.61,0)} \closedcycle;
\end{axis}
\end{tikzpicture}
\end{document}
